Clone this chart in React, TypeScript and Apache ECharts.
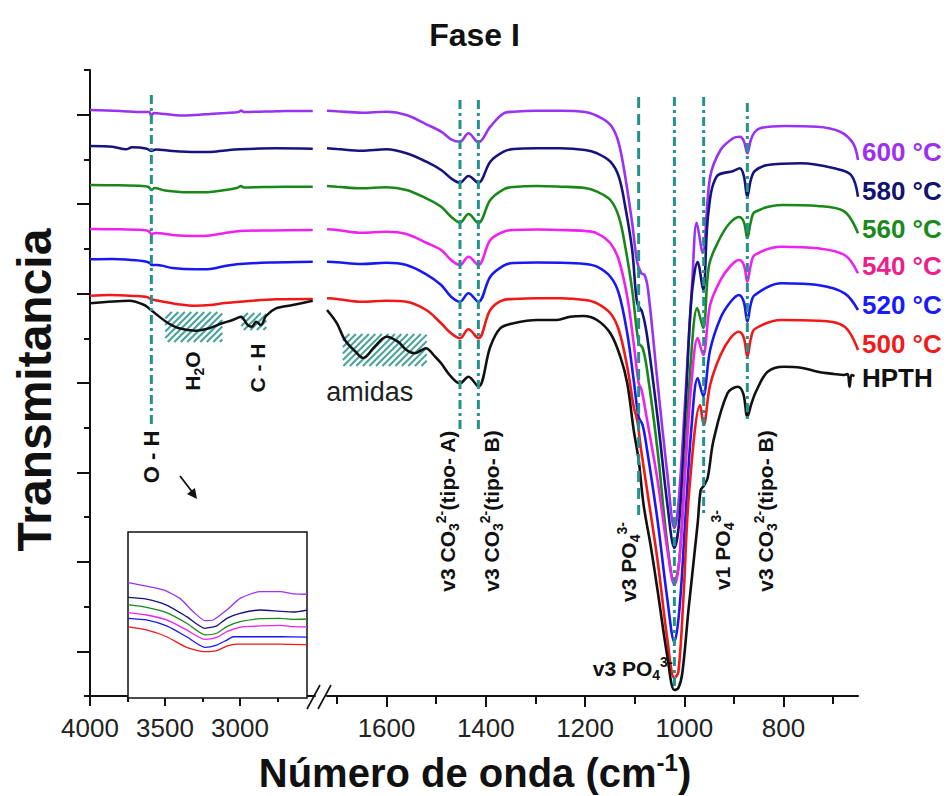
import React, { useEffect, useRef } from 'react';
import * as echarts from 'echarts';

const FONT = '"Liberation Sans", Arial, Helvetica, sans-serif';
const TEAL = '#24918a';

// ---------- data: [wavenumber (cm-1), transmittance (arb. units, stacked offset)] ----------
// 4000-2500 cm-1 segment
const s600L = [[4000,586],[3800,585],[3650,584],[3605,584],[3591,580],[3575,583],[3500,582],[3400,580.5],[3300,581],[3200,582],[3100,583],[3010,584],[2992,585.5],[2975,584],[2800,584.5],[2700,585],[2515,585]];
const s580L = [[4000,550],[3850,549.3],[3760,546.7],[3720,548.7],[3620,547.3],[3594,545],[3560,546.5],[3450,545],[3300,544],[3200,544],[3100,545.5],[3000,546.7],[2760,547.7],[2515,547.3]];
const s560L = [[4000,511],[3800,510.7],[3650,510],[3610,509],[3591,506],[3570,508],[3500,505.5],[3400,504],[3300,503.7],[3200,504],[3100,506],[3020,508],[2993,510],[2975,508.5],[2850,509],[2700,509.3],[2515,509.3]];
const s540L = [[4000,467],[3800,466.7],[3650,466],[3610,465],[3591,462],[3560,463],[3450,461],[3300,460],[3200,460.5],[3100,463],[3000,465],[2800,465.5],[2515,466]];
const s520L = [[4000,436.7],[3850,437],[3760,436.5],[3650,435],[3600,433],[3591,431],[3550,431],[3450,428],[3300,426.7],[3200,427],[3100,430],[3000,432],[2800,433.5],[2515,434.3]];
const s500L = [[4000,400.3],[3870,401],[3700,400],[3620,399],[3591,396.7],[3500,394],[3400,391.5],[3300,390.3],[3200,391],[3100,393],[3000,394.3],[2760,396.7],[2515,397]];
const hpthL = [[4000,392.7],[3738,395.3],[3638,391],[3594,386],[3493,374.3],[3405,367.7],[3294,365.3],[3205,367.7],[3120,372.7],[3049,376],[2993,379.3],[2949,371],[2920,369.3],[2893,374.3],[2860,371],[2827,380],[2760,387.7],[2649,391],[2515,395.3]];

// 1720-650 cm-1 segment
const s600R = [[1720,585.3],[1700,584.7],[1650,583.3],[1600,584.3],[1560,581],[1520,571.7],[1490,564.3],[1470,556.7],[1452,554.3],[1435,562.7],[1415,553.7],[1391,569.3],[1364,582.7],[1344,584.3],[1297,585.3],[1250,585.3],[1200,584],[1166,577.7],[1146,569.3],[1132,552.7],[1119,519.3],[1105,472.7],[1095,434],[1087,423],[1080,421],[1073,406],[1054,314],[1034,221],[1020,168],[1012,191],[998,298],[984,414],[975,473.3],[963,443],[948,519],[927,546],[901,558],[888,559.3],[880,555],[873,542.7],[866,556],[858,564],[846,568],[799,570],[732,569.3],[686,564.3],[660,552.7],[650,536]];
const s580R = [[1720,547.7],[1700,547],[1650,545.3],[1600,546.7],[1560,542.7],[1520,534.3],[1490,526],[1470,517.7],[1452,513.3],[1435,520],[1415,513.3],[1391,534.3],[1364,544.3],[1344,547],[1297,547.7],[1250,547.7],[1200,546],[1176,542.7],[1149,534.3],[1132,519.3],[1119,489.3],[1105,446],[1095,393],[1085,384],[1075,360],[1054,279],[1034,191],[1020,148],[1010,176],[998,281],[986,396],[973,434],[962,406],[952,481],[935,519.3],[901,525],[888,527.7],[880,520],[873,499.3],[866,516],[858,525],[832,531],[765,532.7],[698,527.7],[664,521],[650,499.3]];
const s560R = [[1720,510],[1700,509.3],[1650,507.7],[1600,508.7],[1560,506],[1520,497.7],[1490,489.3],[1470,479.3],[1452,473.3],[1435,482],[1415,473],[1391,496],[1364,506.7],[1344,509],[1297,510],[1250,509.3],[1200,508],[1176,504.3],[1149,496],[1132,479.3],[1119,449.3],[1105,406],[1092,353],[1084,348],[1075,326],[1054,246],[1034,151],[1020,113],[1010,136],[998,236],[986,341],[974,388],[962,368],[950,431],[930,456],[910,472],[890,479],[880,474],[873,458],[866,474],[858,484],[802,491],[731,490],[677,484.3],[650,462.7]];
const s540R = [[1720,466.7],[1700,466],[1650,463.3],[1600,464.3],[1560,462],[1520,453.3],[1490,446],[1470,436],[1452,431],[1435,439.3],[1415,431],[1391,456],[1364,464.3],[1344,466],[1297,466.5],[1250,466],[1200,465],[1176,462.7],[1149,452.7],[1132,436],[1115,399.3],[1102,352.7],[1092,313],[1086,306],[1075,276],[1054,216],[1034,146],[1020,111],[1010,136],[998,226],[986,311],[973,358],[962,341],[948,391],[927,416],[907,430],[890,436],[880,431],[873,414.3],[866,431],[858,441],[804,449.3],[731,447.7],[677,441],[650,422.7]];
const s520R = [[1720,434.3],[1700,433.7],[1650,432],[1600,433.3],[1560,431],[1520,421.7],[1490,411],[1470,399.3],[1452,394.3],[1435,402.7],[1415,394.3],[1391,419.3],[1364,430.3],[1344,433],[1297,433.5],[1250,433.3],[1200,432],[1176,429.3],[1149,419.3],[1132,402.7],[1115,362.7],[1102,316],[1092,279],[1084,271],[1075,246],[1054,176],[1034,96],[1020,54],[1010,86],[998,176],[986,266],[973,318],[962,300],[948,346],[927,378],[907,394],[890,401],[880,394],[873,374.3],[866,392],[858,401],[804,412.7],[731,411],[677,402.7],[650,386]];
const s500R = [[1720,397.7],[1700,397],[1650,394.3],[1600,395.3],[1560,394.3],[1520,386],[1490,372.7],[1470,362.7],[1452,357.7],[1435,366.7],[1415,357.7],[1391,386],[1364,396],[1344,397],[1297,397.7],[1250,397.7],[1200,396],[1176,392.7],[1149,382.7],[1132,366],[1115,329.3],[1102,289.3],[1095,276],[1087,246],[1075,206],[1054,136],[1034,56],[1020,18],[1012,24],[1002,96],[990,206],[968,291],[961,271],[948,311],[927,341],[907,358],[890,364.3],[880,358],[873,339.3],[866,357],[858,367],[804,376],[731,375.3],[677,369.3],[650,346]];
const hpthR = [[1720,386],[1700,372.7],[1684,356],[1662,344],[1647,338],[1624,349.3],[1600,359.3],[1577,354.3],[1560,346],[1543,342.7],[1529,346],[1521,347.7],[1502,339.3],[1490,332.7],[1470,319.3],[1452,312.7],[1435,319.3],[1415,309.3],[1391,349.3],[1371,367.7],[1344,372.7],[1297,376],[1257,376],[1230,379.3],[1203,380],[1176,376],[1149,362.7],[1129,339.3],[1115,312.7],[1102,266],[1092,236],[1082,191],[1068,151],[1054,106],[1034,39],[1020,6],[1012,8],[1004,23],[991,89],[973,173],[967,206],[961,210],[953,218],[941,256],[913,302.7],[892,309.3],[881,302],[873,279.3],[865,292],[856,304],[832,324.3],[799,329.3],[765,328.3],[731,324.3],[698,322],[678,321],[671,322],[667,309.3],[663,321],[657,320]];

// inset (O-H / H2O region, magnified)
const s600I = [[3749,69.5],[3516,65.1],[3405,60],[3316,52],[3238,46.6],[3183,47],[3093,53],[3005,60],[2871,64.1],[2738,64.1],[2649,62.7],[2560,62.5]];
const s580I = [[3749,60.6],[3627,59.6],[3493,56],[3360,49],[3238,42],[3160,43.4],[3093,48],[3005,51],[2871,53],[2738,52.2],[2649,51.8],[2560,53]];
const s560I = [[3749,56.2],[3627,54.6],[3493,51.4],[3360,45],[3238,38],[3160,39],[3093,43],[3005,46],[2871,47.8],[2738,48],[2649,47.4],[2560,47.6]];
const s540I = [[3749,51.4],[3627,50],[3493,47],[3360,41],[3238,35.3],[3160,36.5],[3093,40],[3005,42.6],[2871,43.4],[2738,43.8],[2649,43],[2560,42.8]];
const s520I = [[3749,48],[3627,47],[3493,43.4],[3360,36.9],[3238,30.5],[3160,31.9],[3093,34.9],[3049,36.9],[2871,36.9],[2738,36.9],[2560,36.7]];
const s500I = [[3749,42.8],[3627,41],[3493,36.9],[3360,30.5],[3238,27.9],[3160,28.5],[3093,31.3],[3027,32.5],[2871,32.5],[2738,32.5],[2560,32.1]];

const leftTickLabels = [4000, 3500, 3000];
const leftMinorTicks = [3750, 3250, 2750];
const rightTickLabels = [1600, 1400, 1200, 1000, 800];
const rightMinorTicks = [1700, 1500, 1300, 1100, 900, 700];

// band assignments: [wavenumber, top value, bottom value]
const bandLinesL = [[3591, 601, 271]];
const bandLinesR = [[1452, 596, 263], [1415, 596, 263], [1092, 599, 181], [1020, 599, 6], [961, 599, 181], [873, 593, 276]];
const bandDashR = ['dd', 'dd', 'dash', 'dd', 'dd', 'dd'];
// hatched regions: [w1, w2, v1, v2]
const hatchL = [[3498, 3118, 354, 384], [2991, 2824, 366, 383]];
const hatchR = [[1688, 1519, 330, 362]];

const bandLabelsL = [
  { w: 3591, v: 239, text: 'O - H', rot: 90, size: 22 },
  { w: 3318, v: 325, text: 'H{sub|2}O', rot: 90, size: 21 },
  { w: 2884, v: 328, text: 'C - H', rot: 90, size: 21 },
];
const bandLabelsR = [
  { w: 1634, v: 304, text: '{n|amidas}', rot: 0, size: 20 },
  { w: 1478, v: 185, text: 'v3 CO{sub|3}{sup|2-}(tipo- A)', rot: 90, size: 21 },
  { w: 1389, v: 185, text: 'v3 CO{sub|3}{sup|2-}(tipo- B)', rot: 90, size: 21 },
  { w: 1112, v: 134, text: 'v3 PO{sub|4}{sup|3-}', rot: 90, size: 21 },
  { w: 924, v: 146, text: 'v1 PO{sub|4}{sup|3-}', rot: 90, size: 21 },
  { w: 836, v: 185, text: 'v3 CO{sub|3}{sup|2-}(tipo- B)', rot: 90, size: 21 },
  { w: 1104, v: 28, text: 'v3 PO{sub|4}{sup|3-}', rot: 0, size: 21 },
];

const SERIES = [
  { name: '600 °C', color: '#9933f2', text: '#9b30f0', L: s600L, R: s600R, I: s600I, ly: 152 },
  { name: '580 °C', color: '#14147c', text: '#141470', L: s580L, R: s580R, I: s580I, ly: 191 },
  { name: '560 °C', color: '#1a871a', text: '#1a8a1a', L: s560L, R: s560R, I: s560I, ly: 229 },
  { name: '540 °C', color: '#f020f0', text: '#ec1f8c', L: s540L, R: s540R, I: s540I, ly: 266 },
  { name: '520 °C', color: '#1818f0', text: '#1a1aff', L: s520L, R: s520R, I: s520I, ly: 305 },
  { name: '500 °C', color: '#f01818', text: '#ee1c1c', L: s500L, R: s500R, I: s500I, ly: 344 },
  { name: 'HPTH', color: '#111111', text: '#111111', L: hpthL, R: hpthR, I: null, ly: 378 },
];

const richAnno = {
  sub: { fontSize: 14, fontWeight: 'bold', fontFamily: FONT, fill: '#111', verticalAlign: 'bottom', lineHeight: 27 },
  sup: { fontSize: 14, fontWeight: 'bold', fontFamily: FONT, fill: '#111', verticalAlign: 'top', lineHeight: 27 },
  n: { fontSize: 27, fontWeight: 'normal', fontFamily: FONT, fill: '#222' },
};

function lineRender(defs: number[][], dashes: string[] | null) {
  return (params: any, api: any) => {
    const d = defs[params.dataIndex];
    const p1 = api.coord([d[0], d[1]]);
    const p2 = api.coord([d[0], d[2]]);
    const kind = dashes ? dashes[params.dataIndex] : 'dd';
    return {
      type: 'line',
      shape: { x1: p1[0], y1: p1[1], x2: p2[0], y2: p2[1] },
      style: { stroke: TEAL, lineWidth: 3, lineDash: kind === 'dash' ? [11, 6] : [9, 4, 3, 4] },
    };
  };
}

function hatchRender(defs: number[][]) {
  return (params: any, api: any) => {
    const d = defs[params.dataIndex];
    const a = api.coord([d[0], d[3]]);
    const b = api.coord([d[1], d[2]]);
    const left = Math.min(a[0], b[0]);
    const right = Math.max(a[0], b[0]);
    const top = Math.min(a[1], b[1]);
    const bottom = Math.max(a[1], b[1]);
    const h = bottom - top;
    const children: any[] = [];
    for (let c = left - h; c < right; c += 6.5) {
      const xa = Math.max(left, c);
      const xb = Math.min(right, c + h);
      if (xb <= xa) continue;
      children.push({
        type: 'line',
        shape: { x1: xa, y1: bottom - (xa - c), x2: xb, y2: bottom - (xb - c) },
        style: { stroke: TEAL, lineWidth: 2, opacity: 0.85 },
      });
    }
    return { type: 'group', children };
  };
}

function labelRender(defs: any[]) {
  return (params: any, api: any) => {
    const d = defs[params.dataIndex];
    const p = api.coord([d.w, d.v]);
    return {
      type: 'text',
      x: p[0],
      y: p[1],
      rotation: (d.rot * Math.PI) / 180,
      style: {
        text: d.text,
        fontSize: d.size,
        fontWeight: 'bold',
        fontFamily: FONT,
        fill: '#111',
        align: 'center',
        verticalAlign: 'middle',
        lineHeight: 27,
        rich: richAnno,
      },
    };
  };
}

export default function App() {
  const ref = useRef<HTMLDivElement>(null);
  useEffect(() => {
    const chart = echarts.init(ref.current!, null, { renderer: 'svg' });
    const axisLineStyle = { color: '#111', width: 2 };
    const series: any[] = [];
    SERIES.forEach((s) => {
      series.push({
        name: s.name, type: 'line', xAxisIndex: 0, yAxisIndex: 0, data: s.L, showSymbol: false, symbol: 'none',
        smooth: 0.3, lineStyle: { color: s.color, width: 2.5 }, silent: true, z: 2,
      });
      series.push({
        name: s.name, type: 'line', xAxisIndex: 2, yAxisIndex: 1, data: s.R, showSymbol: false, symbol: 'none',
        smooth: 0.35, lineStyle: { color: s.color, width: 2.6 }, silent: true, z: 2,
      });
      if (s.I) {
        series.push({
          name: s.name, type: 'line', xAxisIndex: 4, yAxisIndex: 2, data: s.I, showSymbol: false, symbol: 'none',
          smooth: 0.2, lineStyle: { color: s.color, width: 1.3 }, silent: true, z: 8,
        });
      }
    });
    series.push(
      { type: 'custom', xAxisIndex: 0, yAxisIndex: 0, data: hatchL, encode: { x: [0, 1], y: [2, 3] }, renderItem: hatchRender(hatchL), z: 1, silent: true },
      { type: 'custom', xAxisIndex: 2, yAxisIndex: 1, data: hatchR, encode: { x: [0, 1], y: [2, 3] }, renderItem: hatchRender(hatchR), z: 1, silent: true },
      { type: 'custom', xAxisIndex: 0, yAxisIndex: 0, data: bandLinesL, encode: { x: 0, y: [1, 2] }, renderItem: lineRender(bandLinesL, null), z: 3, silent: true },
      { type: 'custom', xAxisIndex: 2, yAxisIndex: 1, data: bandLinesR, encode: { x: 0, y: [1, 2] }, renderItem: lineRender(bandLinesR, bandDashR), z: 3, silent: true },
      { type: 'custom', xAxisIndex: 0, yAxisIndex: 0, data: bandLabelsL.map((d) => [d.w, d.v]), renderItem: labelRender(bandLabelsL), z: 4, silent: true },
      { type: 'custom', xAxisIndex: 2, yAxisIndex: 1, data: bandLabelsR.map((d) => [d.w, d.v]), renderItem: labelRender(bandLabelsR), z: 4, silent: true },
    );

    const graphic: any[] = [
      {
        type: 'text', x: 34, y: 390, rotation: Math.PI / 2,
        style: { text: 'Transmitancia', fontSize: 48, fontWeight: 'bold', fontFamily: FONT, fill: '#111', align: 'center', verticalAlign: 'middle' },
      },
      {
        type: 'text', x: 475, y: 773,
        style: {
          text: '{a|Número de onda (cm}{s|-1}{a|)}', align: 'center', verticalAlign: 'middle', fill: '#111',
          rich: {
            a: { fontSize: 40, fontWeight: 'bold', fontFamily: FONT, fill: '#111', lineHeight: 46 },
            s: { fontSize: 24, fontWeight: 'bold', fontFamily: FONT, fill: '#111', verticalAlign: 'top', lineHeight: 46 },
          },
        },
      },
      { type: 'line', shape: { x1: 307, y1: 709, x2: 320, y2: 685 }, style: { stroke: '#111', lineWidth: 1.6 } },
      { type: 'line', shape: { x1: 318, y1: 709, x2: 331, y2: 685 }, style: { stroke: '#111', lineWidth: 1.6 } },
      { type: 'line', shape: { x1: 180, y1: 476, x2: 193, y2: 493 }, style: { stroke: '#111', lineWidth: 1.8 } },
      { type: 'polygon', shape: { points: [[197, 499], [186.9, 494.1], [194.9, 488]] }, style: { fill: '#111' } },
    ];
    SERIES.forEach((s) => {
      graphic.push({
        type: 'text', x: 862, y: s.ly,
        style: { text: s.name, fontSize: 26, fontWeight: 'bold', fontFamily: FONT, fill: s.text, align: 'left', verticalAlign: 'middle' },
      });
    });

    const plain = (v: number) => String(v);
    const option: any = {
      animation: false,
      backgroundColor: '#ffffff',
      title: {
        text: 'Fase I', left: 'center', top: 14,
        textStyle: { fontSize: 32, fontWeight: 'bold', fontFamily: FONT, color: '#111' },
      },
      grid: [
        { left: 90, top: 70, width: 225, height: 626 },
        { left: 327, top: 70, width: 531, height: 626 },
        { left: 128, top: 532, width: 179, height: 166, show: true, backgroundColor: '#ffffff', borderColor: '#111', borderWidth: 1.5, z: 5 },
      ],
      xAxis: [
        {
          gridIndex: 0, type: 'value', min: 2500, max: 4000, inverse: true,
          axisLine: { onZero: false, lineStyle: axisLineStyle },
          axisTick: { customValues: leftTickLabels, length: 10, lineStyle: axisLineStyle },
          axisLabel: { customValues: leftTickLabels, formatter: plain, fontSize: 26, color: '#222', fontFamily: FONT, margin: 19 },
          splitLine: { show: false },
        },
        {
          gridIndex: 0, type: 'value', min: 2500, max: 4000, inverse: true, position: 'bottom',
          axisLine: { show: false },
          axisTick: { customValues: leftMinorTicks, length: 6, lineStyle: axisLineStyle },
          axisLabel: { show: false }, splitLine: { show: false },
        },
        {
          gridIndex: 1, type: 'value', min: 650, max: 1720, inverse: true,
          axisLine: { onZero: false, lineStyle: axisLineStyle },
          axisTick: { customValues: rightTickLabels, length: 11, lineStyle: axisLineStyle },
          axisLabel: { customValues: rightTickLabels, formatter: plain, fontSize: 26, color: '#222', fontFamily: FONT, margin: 19 },
          splitLine: { show: false },
        },
        {
          gridIndex: 1, type: 'value', min: 650, max: 1720, inverse: true, position: 'bottom',
          axisLine: { show: false },
          axisTick: { customValues: rightMinorTicks, length: 8, lineStyle: axisLineStyle },
          axisLabel: { show: false }, splitLine: { show: false },
        },
        { gridIndex: 2, type: 'value', min: 2560, max: 3750, inverse: true, show: false },
      ],
      yAxis: [
        {
          gridIndex: 0, type: 'value', min: 0, max: 626, interval: 626 / 7,
          axisLine: { show: true, onZero: false, lineStyle: axisLineStyle },
          axisTick: { show: true, length: 6, lineStyle: axisLineStyle },
          minorTick: { show: true, splitNumber: 2, length: 13, lineStyle: axisLineStyle },
          axisLabel: { show: false }, splitLine: { show: false }, minorSplitLine: { show: false },
        },
        { gridIndex: 1, type: 'value', min: 0, max: 626, show: false },
        { gridIndex: 2, type: 'value', min: 0, max: 100, show: false },
      ],
      graphic,
      series,
    };
    chart.setOption(option);
    return () => chart.dispose();
  }, []);
  return <div ref={ref} style={{ position: 'fixed', left: 0, top: 0, width: 949, height: 796, background: '#fff' }} />;
}
